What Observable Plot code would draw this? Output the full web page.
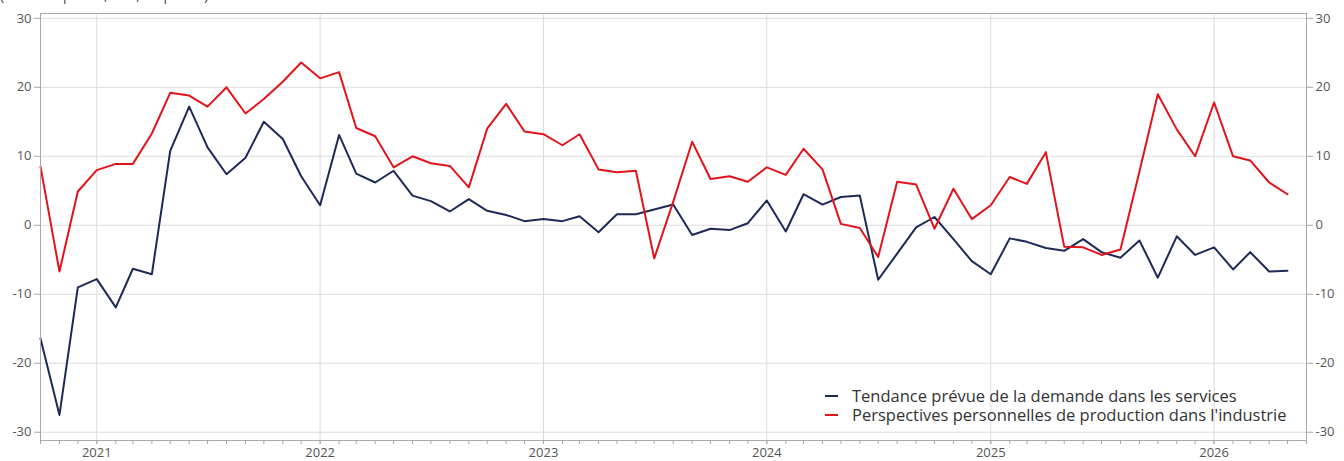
<!DOCTYPE html>
<html>
<head>
<meta charset="utf-8">
<script src="https://cdn.jsdelivr.net/npm/d3@7"></script>
<script src="https://cdn.jsdelivr.net/npm/@observablehq/plot@0.6"></script>
<style>
  html, body { margin: 0; padding: 0; background: #fff; overflow: hidden; }
  #wrap { position: relative; width: 1344px; height: 461px; font-family: "Open Sans", sans-serif; }
  #subtitle { position: absolute; left: 0; top: -13px; font-size: 14px; line-height: 16px; color: #444; white-space: nowrap; }
  #legend { position: absolute; left: 825px; top: 386px; font-size: 16.5px; line-height: 19px; color: #333; }
  #legend .row { display: flex; align-items: center; white-space: nowrap; height: 19px; }
  #legend .sw { width: 13px; height: 2px; margin-right: 14px; }
  #legend .txt { display: inline-block; height: 19px; line-height: 19px; overflow: visible; }
  svg { display: block; }
</style>
</head>
<body>
<div id="wrap">
  <div id="chart"></div>
  <div id="subtitle">(solde d'opinion, CVS, en points)</div>
  <div id="legend"></div>
</div>
<script>
// Monthly series, October 2020 to May 2026
const firstMonth = "2020-10-01";
const monthCount = 68;

const seriesNames = [
  "Tendance prévue de la demande dans les services",
  "Perspectives personnelles de production dans l'industrie"
];
const seriesColors = ["#1d2a57", "#e3131b"];

const demandeServices = [
  -16.4, -27.5, -9.0,
  -7.8, -11.9, -6.3, -7.1, 10.8, 17.2, 11.3, 7.4, 9.8, 15.0, 12.5, 7.1,
  2.9, 13.1, 7.5, 6.2, 7.9, 4.3, 3.5, 2.0, 3.8, 2.1, 1.5, 0.6,
  0.9, 0.6, 1.3, -1.0, 1.6, 1.6, 2.3, 3.0, -1.4, -0.5, -0.7, 0.3,
  3.6, -0.9, 4.5, 3.0, 4.1, 4.3, -7.9, -4.1, -0.3, 1.2, -2.0, -5.2,
  -7.1, -1.9, -2.4, -3.3, -3.7, -2.0, -3.9, -4.7, -2.2, -7.6, -1.6, -4.3,
  -3.2, -6.4, -3.9, -6.7, -6.6
];

const productionIndustrie = [
  8.5, -6.7, 4.9,
  8.0, 8.9, 8.9, 13.3, 19.2, 18.8, 17.2, 20.0, 16.2, 18.3, 20.8, 23.6,
  21.3, 22.2, 14.1, 12.9, 8.4, 10.0, 9.0, 8.6, 5.5, 14.0, 17.6, 13.6,
  13.2, 11.6, 13.2, 8.1, 7.7, 7.9, -4.8, 3.4, 12.1, 6.7, 7.1, 6.3,
  8.4, 7.3, 11.1, 8.1, 0.2, -0.4, -4.6, 6.3, 5.9, -0.5, 5.3, 0.9,
  2.9, 7.0, 6.0, 10.6, -3.1, -3.2, -4.3, -3.5, 7.8, 19.0, 13.9, 10.0,
  17.8, 10.0, 9.4, 6.2, 4.5
];

const yTicks = [-30, -20, -10, 0, 10, 20, 30];
const yearTicks = [2021, 2022, 2023, 2024, 2025, 2026];

const start = new Date(firstMonth + "T00:00:00Z");
const dates = d3.range(monthCount).map(i => d3.utcMonth.offset(start, i));
const xEnd = d3.utcMonth.offset(start, monthCount);

const rows = [];
[demandeServices, productionIndustrie].forEach((vals, s) => {
  vals.forEach((v, i) => rows.push({date: dates[i], value: v, series: seriesNames[s]}));
});

const yearDates = yearTicks.map(y => new Date(Date.UTC(y, 0, 1)));
const monthTicks = d3.utcMonth.range(start, d3.utcDay.offset(xEnd, 1));

const chart = Plot.plot({
  width: 1344,
  height: 461,
  marginTop: 13,
  marginBottom: 21,
  marginLeft: 40,
  marginRight: 38,
  style: {fontFamily: "'Open Sans', sans-serif", fontSize: "13px", color: "#555", background: "#fff"},
  x: {type: "utc", domain: [start, xEnd]},
  y: {domain: [-31.2, 30.7]},
  color: {domain: seriesNames, range: seriesColors},
  marks: [
    Plot.gridY(yTicks, {stroke: "#dcdcdc", strokeOpacity: 1}),
    Plot.gridX(yearDates, {stroke: "#dcdcdc", strokeOpacity: 1}),
    Plot.lineY(rows, {x: "date", y: "value", z: "series", stroke: "series", strokeWidth: 2, curve: "linear"}),
    Plot.frame({stroke: "#a8a8a8"}),
    Plot.axisY(yTicks, {anchor: "left", tickSize: 6, tickPadding: 3, stroke: "#a8a8a8", fill: "#555", tickFormat: d => String(d), label: null}),
    Plot.axisY(yTicks, {anchor: "right", tickSize: 6, tickPadding: 3, stroke: "#a8a8a8", fill: "#555", tickFormat: d => String(d), label: null}),
    Plot.axisX(monthTicks, {tickSize: 4, tickFormat: () => "", stroke: "#a8a8a8", label: null}),
    Plot.axisX(yearDates, {tickSize: 4, tickPadding: 3, tickFormat: "%Y", stroke: "#a8a8a8", fill: "#555", label: null})
  ]
});
document.getElementById("chart").appendChild(chart);

const legend = document.getElementById("legend");
seriesNames.forEach((name, i) => {
  const row = document.createElement("div");
  row.className = "row";
  const sw = document.createElement("span");
  sw.className = "sw";
  sw.style.background = seriesColors[i];
  const label = document.createElement("span");
  label.className = "txt";
  label.textContent = name;
  row.appendChild(sw);
  row.appendChild(label);
  legend.appendChild(row);
});
</script>
</body>
</html>
